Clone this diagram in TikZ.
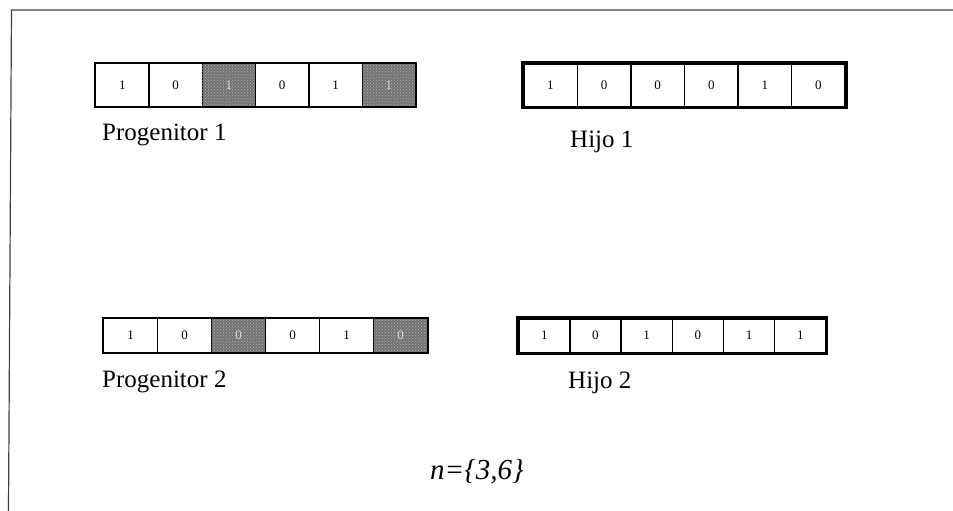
\documentclass[tikz,border=0pt]{standalone}
\usepackage{fontspec}
\setmainfont{Liberation Serif}
\usetikzlibrary{patterns}

\tikzset{
  bitcell/.style={draw=black, line width=1.3pt, inner sep=0pt, anchor=north west,
    font=\fontsize{13}{13}\selectfont},
  bitplain/.style={fill=white},
  bitswap/.style={fill=black!55, text=white!85!black,
    postaction={pattern=crosshatch dots, pattern color=white!70!black}},
  parentbox/.style={draw=black, line width=2pt},
  childbox/.style={draw=black, line width=3.6pt},
  caption/.style={inner sep=0pt, anchor=base west, font=\fontsize{25}{30}\selectfont},
  framerule/.style={draw=black!75, line width=1.2pt}
}

\begin{document}
\begin{tikzpicture}[x=1pt,y=-1pt]
\useasboundingbox[fill=white] (0,0) rectangle (953,511);

% open frame: top and left edges only
\coordinate (frameTL) at (11.5,10);
\coordinate (frameTR) at (953,10);
\coordinate (frameBL) at (8.5,511);
\draw[framerule] (frameTR) -- (frameTL) -- (frameBL);

% parent 1
\foreach \v/\s [count=\i] in {1/bitplain,0/bitplain,1/bitswap,0/bitplain,1/bitplain,1/bitswap}
  \node[bitcell, \s, minimum width=53.3pt, minimum height=43pt] (pa\i) at ({95+53.3*(\i-1)},63) {\v};
\draw[parentbox] (pa1.north west) rectangle (pa6.south east);
\node[caption] (palab) at (102,140) {Progenitor 1};

% child 1
\foreach \v [count=\i] in {1,0,0,0,1,0}
  \node[bitcell, bitplain, minimum width=53.6pt, minimum height=43pt] (ca\i) at ({523+53.6*(\i-1)},63) {\v};
\draw[childbox] (ca1.north west) rectangle (ca6.south east);
\node[caption] (calab) at (570,147) {Hijo 1};

% parent 2
\foreach \v/\s [count=\i] in {1/bitplain,0/bitplain,0/bitswap,0/bitplain,1/bitplain,0/bitswap}
  \node[bitcell, \s, minimum width=54pt, minimum height=34pt] (pb\i) at ({103+54*(\i-1)},318) {\v};
\draw[parentbox] (pb1.north west) rectangle (pb6.south east);
\node[caption] (pblab) at (102,387) {Progenitor 2};

% child 2
\foreach \v [count=\i] in {1,0,1,0,1,1}
  \node[bitcell, bitplain, minimum width=51.2pt, minimum height=34pt] (cb\i) at ({518+51.2*(\i-1)},318) {\v};
\draw[childbox] (cb1.north west) rectangle (cb6.south east);
\node[caption] (cblab) at (568,388) {Hijo 2};

% crossover points
\node[inner sep=0pt, anchor=base, font=\fontsize{29}{34}\selectfont\itshape] (cutset) at (477,479) {n=\{3,6\}};
\end{tikzpicture}
\end{document}
